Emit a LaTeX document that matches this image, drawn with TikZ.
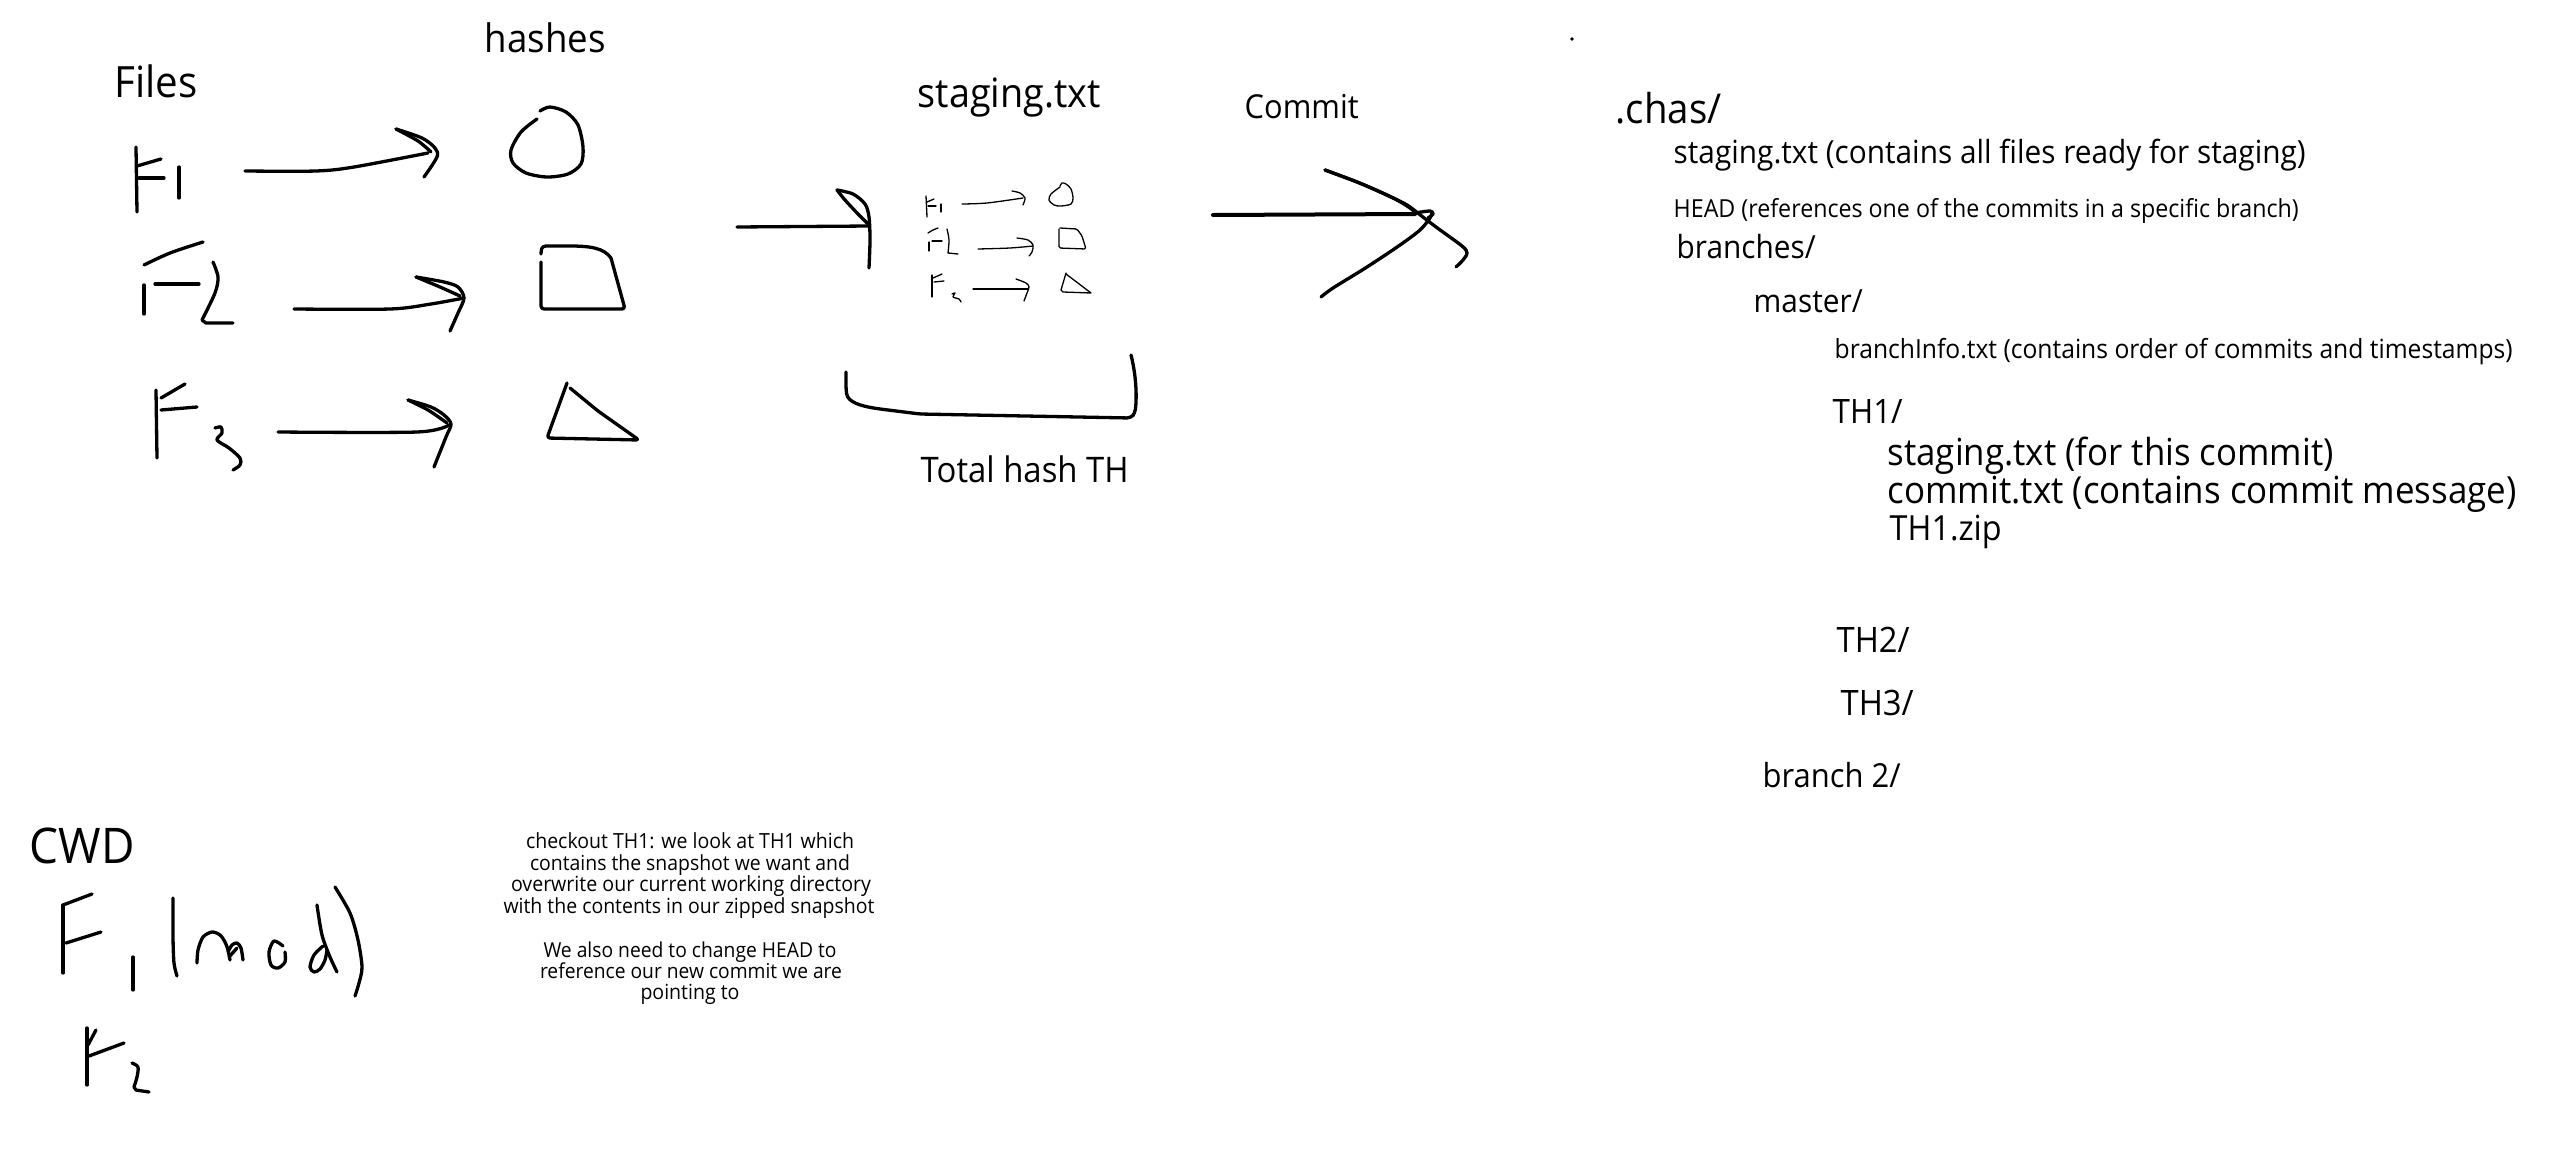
\documentclass[tikz,border=0pt]{standalone}
\usepackage{fontspec}
\setmainfont{Open Sans}
\usepackage{graphicx}
\newlength\px
\setlength\px{0.1mm}
\newcommand\tw[2]{\resizebox{#1\px}{!}{\scalebox{1}[1.07]{#2}}}
\tikzset{
  ink/.style={line width=3.3\px, line cap=round, line join=round},
  thinink/.style={line width=1.3\px, line cap=round, line join=round},
  lbl/.style={inner sep=0pt, anchor=base west},
  lblc/.style={inner sep=0pt, anchor=base},
}
\begin{document}
\begin{tikzpicture}[x=0.1mm, y=-0.1mm]
\useasboundingbox (0,0) rectangle (2556,1168);
\fill[white] (0,0) rectangle (2556,1168);

% ---------- labels ----------
\node[lbl] (hashes) at (484,52) {\tw{121}{hashes}};
\node[lbl] (files) at (114,97) {\tw{83}{Files}};
\node[lbl] (stghead) at (917,107) {\tw{183}{staging.txt}};
\node[lbl] (commit) at (1244,118) {\tw{114}{Commit}};
\node[lbl] (total) at (920,482) {\tw{208}{Total hash TH}};
\node[lbl] (cwd) at (29,863) {\tw{105}{CWD}};

% directory tree
\node[lbl] (chas) at (1615,123) {\tw{106}{.chas/}};
\node[lbl] (t1) at (1673,163) {\tw{632}{staging.txt (contains all files ready for staging)}};
\node[lbl] (t2) at (1673,217) {\tw{625}{HEAD (references one of the commits in a specific branch)}};
\node[lbl] (t3) at (1676,258) {\tw{139}{branches/}};
\node[lbl] (t4) at (1753,312) {\tw{109}{master/}};
\node[lbl] (t5) at (1834,358) {\tw{678}{branchInfo.txt (contains order of commits and timestamps)}};
\node[lbl] (t6) at (1832,423) {\tw{70}{TH1/}};
\node[lbl] (t7) at (1887,465) {\tw{446}{staging.txt (for this commit)}};
\node[lbl] (t8) at (1887,503) {\tw{629}{commit.txt (contains commit message)}};
\node[lbl] (t9) at (1889,540) {\tw{112}{TH1.zip}};
\node[lbl] (t10) at (1836,652) {\tw{73}{TH2/}};
\node[lbl] (t11) at (1840,715) {\tw{73}{TH3/}};
\node[lbl] (t12) at (1762,787) {\tw{138}{branch 2/}};

% checkout note
\node[lblc] (co1) at (690,848) {\tw{328}{checkout TH1: we look at TH1 which}};
\node[lblc] (co2) at (690,870) {\tw{320}{contains the snapshot we want and}};
\node[lblc] (co3) at (691,891) {\tw{360}{overwrite our current working directory}};
\node[lblc] (co4) at (689,913) {\tw{371}{with the contents in our zipped snapshot}};
\node[lblc] (co5) at (690,957) {\tw{293}{We also need to change HEAD to}};
\node[lblc] (co6) at (691,978) {\tw{302}{reference our new commit we are}};
\node[lblc] (co7) at (690,999) {\tw{99}{pointing to}};

% stray dot
\fill (1572,39) circle (1.8);

% ---------- Files column ----------
% F1
\draw[ink] (136,147) -- (137,212);
\draw[ink] (137,166) -- (161,159);
\draw[ink] (139,178) -- (164,178);
\draw[ink] (179,167) -- (179,198);
% F2
\draw[ink] plot[smooth] coordinates {(144,265) (170,253) (203,242)};
\draw[ink] (144,285) -- (144,314);
\draw[ink] (155,284) -- (199,284);
\draw[ink] plot[smooth] coordinates {(213,262) (218,277) (215,293) (202,320)} -- (206,323) -- (233,323);
% F3
\draw[ink] (156,390) -- (157,458);
\draw[ink] (161,398) -- (185,384);
\draw[ink] (161,410) -- (197,407);
\draw[ink] plot[smooth] coordinates {(215,428) (221,427) (222,433) (217,440) (229,448) (240,458) (240,465) (233,470)};

% arrows files -> hashes
\draw[ink] plot[smooth] coordinates {(245,171) (316,171) (354,167) (428,153)};
\draw[ink] plot[smooth] coordinates {(396,129) (422,138) (435,148) (437,157) (424,177)};
\draw[ink] plot[smooth] coordinates {(396,129) (418,141) (431,152)};
\draw[ink] plot[smooth] coordinates {(294,309) (390,309) (431,304) (464,298)};
\draw[ink] plot[smooth] coordinates {(416,277) (444,282) (458,287) (464,298) (458,313) (450,331)};
\draw[ink] plot[smooth] coordinates {(416,277) (440,287) (460,296)};
\draw[ink] plot[smooth] coordinates {(278,432) (417,432) (449,425)};
\draw[ink] plot[smooth] coordinates {(408,400) (431,407) (444,415) (451,424) (446,437) (434,467)};
\draw[ink] plot[smooth] coordinates {(408,400) (428,410) (447,423)};

% hashes shapes
\draw[ink] plot[smooth] coordinates {(537,119) (521,132) (511,150) (513,163) (526,173) (547,177) (568,174) (581,164) (583,147) (578,125) (566,112) (550,107) (540,111)};
\draw[ink, rounded corners=3\px] (541,262) -- (541,309) -- (625,309) -- (611,258);
\draw[ink] (611,258) .. controls (604,248) and (590,246) .. (570,246) -- (546,246) .. controls (542,246) and (541,249) .. (541,254);
\draw[ink, rounded corners=3\px] (567,383) -- (547,438) -- (639,440) -- (598,411) -- (570,388);

% ---------- arrow into staging ----------
\draw[ink] (737,227) -- (869,226);
\draw[ink] plot[smooth] coordinates {(869,225) (858,214) (845,200) (837,190)};
\draw[ink] plot[smooth] coordinates {(837,190) (853,194) (865,204) (869,217) (870,240) (869,268)};

% ---------- mini staging figure ----------
\draw[thinink] (926,196) -- (927,217);
\draw[thinink] (927,202) -- (934,199);
\draw[thinink] (928,206) -- (936,206);
\draw[thinink] (941,204) -- (941,212);
\draw[thinink] plot[smooth] coordinates {(962,204) (987,203) (1023,198)};
\draw[thinink] plot[smooth] coordinates {(1012,191) (1020,193) (1025,198) (1023,205)};
\draw[thinink] plot[smooth] coordinates {(1060,187) (1051,194) (1049,200) (1054,205) (1061,206) (1071,204) (1073,198) (1071,189) (1066,184) (1062,183) (1060,186)};

\draw[thinink] plot[smooth] coordinates {(928,233) (933,230) (938,228)};
\draw[thinink] (929,242) -- (929,251);
\draw[thinink] (932,241) -- (942,241);
\draw[thinink] plot[smooth] coordinates {(947,229) (949,240) (948,253)} -- (958,254);
\draw[thinink] plot[smooth] coordinates {(978,249) (1010,248) (1033,246)};
\draw[thinink] plot[smooth] coordinates {(1017,238) (1028,240) (1033,245) (1032,252) (1029,256)};
\draw[thinink, rounded corners=1.5\px] (1059,229) -- (1059,248) -- (1086,249) -- (1082,236) -- (1077,229) -- (1060,228);

\draw[thinink] (932,275) -- (932,297);
\draw[thinink] (933,278) -- (942,274);
\draw[thinink] (934,282) -- (944,281);
\draw[thinink] plot[smooth] coordinates {(952,294) (955,293) (953,297) (959,299) (961,302)};
\draw[thinink] (973,289) -- (1028,289);
\draw[thinink] plot[smooth] coordinates {(1016,279) (1026,283) (1029,287) (1027,293) (1024,301)};
\draw[thinink] (1066,273) -- (1061,290) -- (1063,292) -- (1091,293) -- (1066,274);

% bracket
\draw[ink, rounded corners=4\px] (846,372) -- (846,390) .. controls (848,402) and (860,406) .. (880,409) -- (920,414) -- (1131,418) -- (1135,413) .. controls (1137,395) and (1136,375) .. (1131,355);

% ---------- commit arrow ----------
\draw[ink, line width=4\px] (1213,215) -- (1415,214);
\draw[ink] plot[smooth] coordinates {(1415,213) (1430,211) (1433,214) (1428,218)};
\draw[ink] plot[smooth] coordinates {(1325,170) (1357,182) (1387,195) (1407,205) (1419,214) (1436,227) (1462,246) (1467,253) (1463,260) (1456,267)};
\draw[ink] plot[smooth] coordinates {(1325,170) (1362,184) (1395,199) (1410,208) (1416,213)};
\draw[ink] plot[smooth] coordinates {(1321,297) (1333,288) (1367,267) (1400,245) (1420,230) (1430,218) (1432,213)};

% ---------- CWD ----------
\draw[ink] (63,905) -- (63,973);
\draw[ink] (63,905) -- (92,894);
\draw[ink] (66,943) -- (101,932);
\draw[ink] (133,957) -- (133,990);
\draw[ink] plot[smooth] coordinates {(173,898) (173,937) (174,963) (177,976)};
\draw[ink] plot[smooth] coordinates {(197,963) (198,950) (203,937) (212,932) (220,935) (225,942) (228,950) (230,960)};
\draw[ink] plot[smooth] coordinates {(228,952) (232,945) (237,943) (241,948) (243,960)};
\draw[ink] (229,957) -- (237,948);
\draw[ink] plot[smooth] coordinates {(283,946) (274,941) (269,952) (271,965) (278,968) (285,962) (285,952)};
\draw[ink] plot[smooth] coordinates {(317,905) (322,935) (330,957) (337,972)};
\draw[ink] plot[smooth] coordinates {(323,946) (314,955) (310,967) (314,972) (320,969) (325,960) (327,950)};
\draw[ink] plot[smooth] coordinates {(335,887) (350,913) (358,940) (362,967) (359,983) (355,996)};

\draw[ink] (87,1028) -- (87,1085);
\draw[ink] (88,1045) -- (96,1030);
\draw[ink] (89,1056) -- (124,1043);
\draw[ink] plot[smooth] coordinates {(132,1063) (138,1067) (137,1077) (134,1087)} -- (136,1090) -- (149,1092);
\end{tikzpicture}
\end{document}
